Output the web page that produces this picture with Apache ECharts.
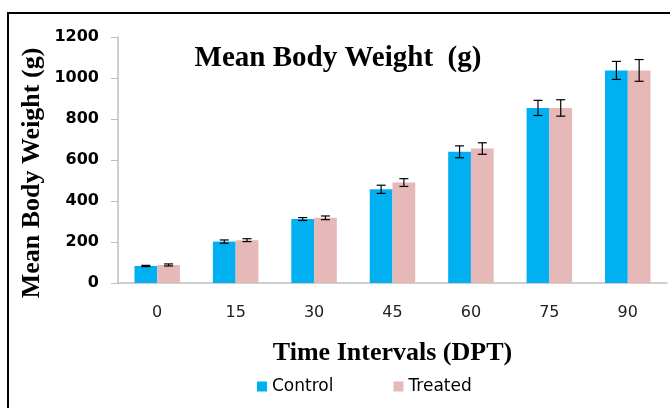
<!DOCTYPE html>
<html><head><meta charset="utf-8">
<script src="https://cdn.jsdelivr.net/npm/echarts@6/dist/echarts.min.js"></script>
<style>html,body{margin:0;padding:0;background:#fff}#c{width:670px;height:408px}</style>
</head><body><div id="c"></div>
<script>
var categories = ['0','15','30','45','60','75','90'];
var controlValues = [83, 202, 312, 457, 640, 854, 1037];
var treatedValues = [88, 209, 318, 490, 656, 854, 1037];
var controlErr = [3, 8, 7, 20, 29, 37, 44];
var treatedErr = [5, 7, 9, 19, 28, 40, 53];
var yTicks = [0, 200, 400, 600, 800, 1000, 1200];
var yTitle = 'Mean Body Weight (g)';

var GAP = 0.42;
function errSeries(name, vals, errs, side) {
  return {
    type: 'custom', name: name + ' err', z: 10, silent: true,
    data: vals.map(function (v, i) { return [i, v, errs[i]]; }),
    renderItem: function (params, api) {
      var i = api.value(0), v = api.value(1), e = api.value(2);
      var band = api.size([1, 0])[0];
      var bw = band * (1 - GAP) / 2;
      var c = api.coord([i, v]);
      var x = c[0] + side * bw / 2;
      var top = api.coord([i, v + e])[1];
      var bot = api.coord([i, v - e])[1];
      var cap = 4.5;
      var st = { stroke: '#000', lineWidth: 1.2 };
      return { type: 'group', children: [
        { type: 'line', shape: { x1: x, y1: top, x2: x, y2: bot }, style: st },
        { type: 'line', shape: { x1: x - cap, y1: top, x2: x + cap, y2: top }, style: st },
        { type: 'line', shape: { x1: x - cap, y1: bot, x2: x + cap, y2: bot }, style: st }
      ]};
    }
  };
}

var chart = echarts.init(document.getElementById('c'));
chart.setOption({
  animation: false,
  title: {
    text: 'Mean Body Weight  (g)', left: 333, top: 39, textAlign: 'center',
    textStyle: { fontFamily: 'Liberation Serif', fontWeight: 'bold', fontSize: 29, color: '#000' }
  },
  graphic: [{
    type: 'polyline', shape: { points: [[8, 420], [8, 13], [690, 13]] },
    style: { fill: 'none', stroke: '#000', lineWidth: 2 }, silent: true, z: -1
  }, {
    type: 'text', x: 32, y: 173, rotation: Math.PI / 2, silent: true,
    style: { text: yTitle, fontFamily: 'Liberation Serif', fontWeight: 'bold', fontSize: 26,
      fill: '#000', align: 'center', verticalAlign: 'middle' }
  }],
  legend: {
    data: ['Control', 'Treated'], top: 373, left: 252, itemGap: 60,
    itemWidth: 10, itemHeight: 10, icon: 'rect',
    textStyle: { fontFamily: 'DejaVu Sans', fontSize: 17, color: '#000' }
  },
  grid: { left: 118, right: 3, top: 37, bottom: 125 },
  xAxis: {
    type: 'category', data: categories,
    name: 'Time Intervals (DPT)', nameLocation: 'middle', nameGap: 57,
    nameTextStyle: { fontFamily: 'Liberation Serif', fontWeight: 'bold', fontSize: 26, color: '#000' },
    axisLine: { lineStyle: { color: '#bfbfbf', width: 1.5 } },
    axisTick: { show: false },
    axisLabel: { fontFamily: 'DejaVu Sans', fontSize: 16, color: '#222', margin: 22 }
  },
  yAxis: {
    type: 'value', min: 0, max: 1200, interval: 200,
    axisLine: { show: true, lineStyle: { color: '#bfbfbf', width: 1.5 } },
    axisTick: { show: true, length: 7, lineStyle: { color: '#bfbfbf' } },
    splitLine: { show: false },
    axisLabel: { fontFamily: 'DejaVu Sans', fontWeight: 'bold', fontSize: 16, color: '#000', margin: 19,
      formatter: function (v) { return yTicks.indexOf(v) >= 0 ? String(v) : ''; } }
  },
  series: [
    { name: 'Control', type: 'bar', data: controlValues, barGap: '0%', barCategoryGap: (GAP*100)+'%',
      itemStyle: { color: '#00B0F0' } },
    { name: 'Treated', type: 'bar', data: treatedValues, barGap: '0%', barCategoryGap: (GAP*100)+'%',
      itemStyle: { color: '#E6B9B8' } },
    errSeries('Control', controlValues, controlErr, -1),
    errSeries('Treated', treatedValues, treatedErr, 1)
  ]
});
</script></body></html>
